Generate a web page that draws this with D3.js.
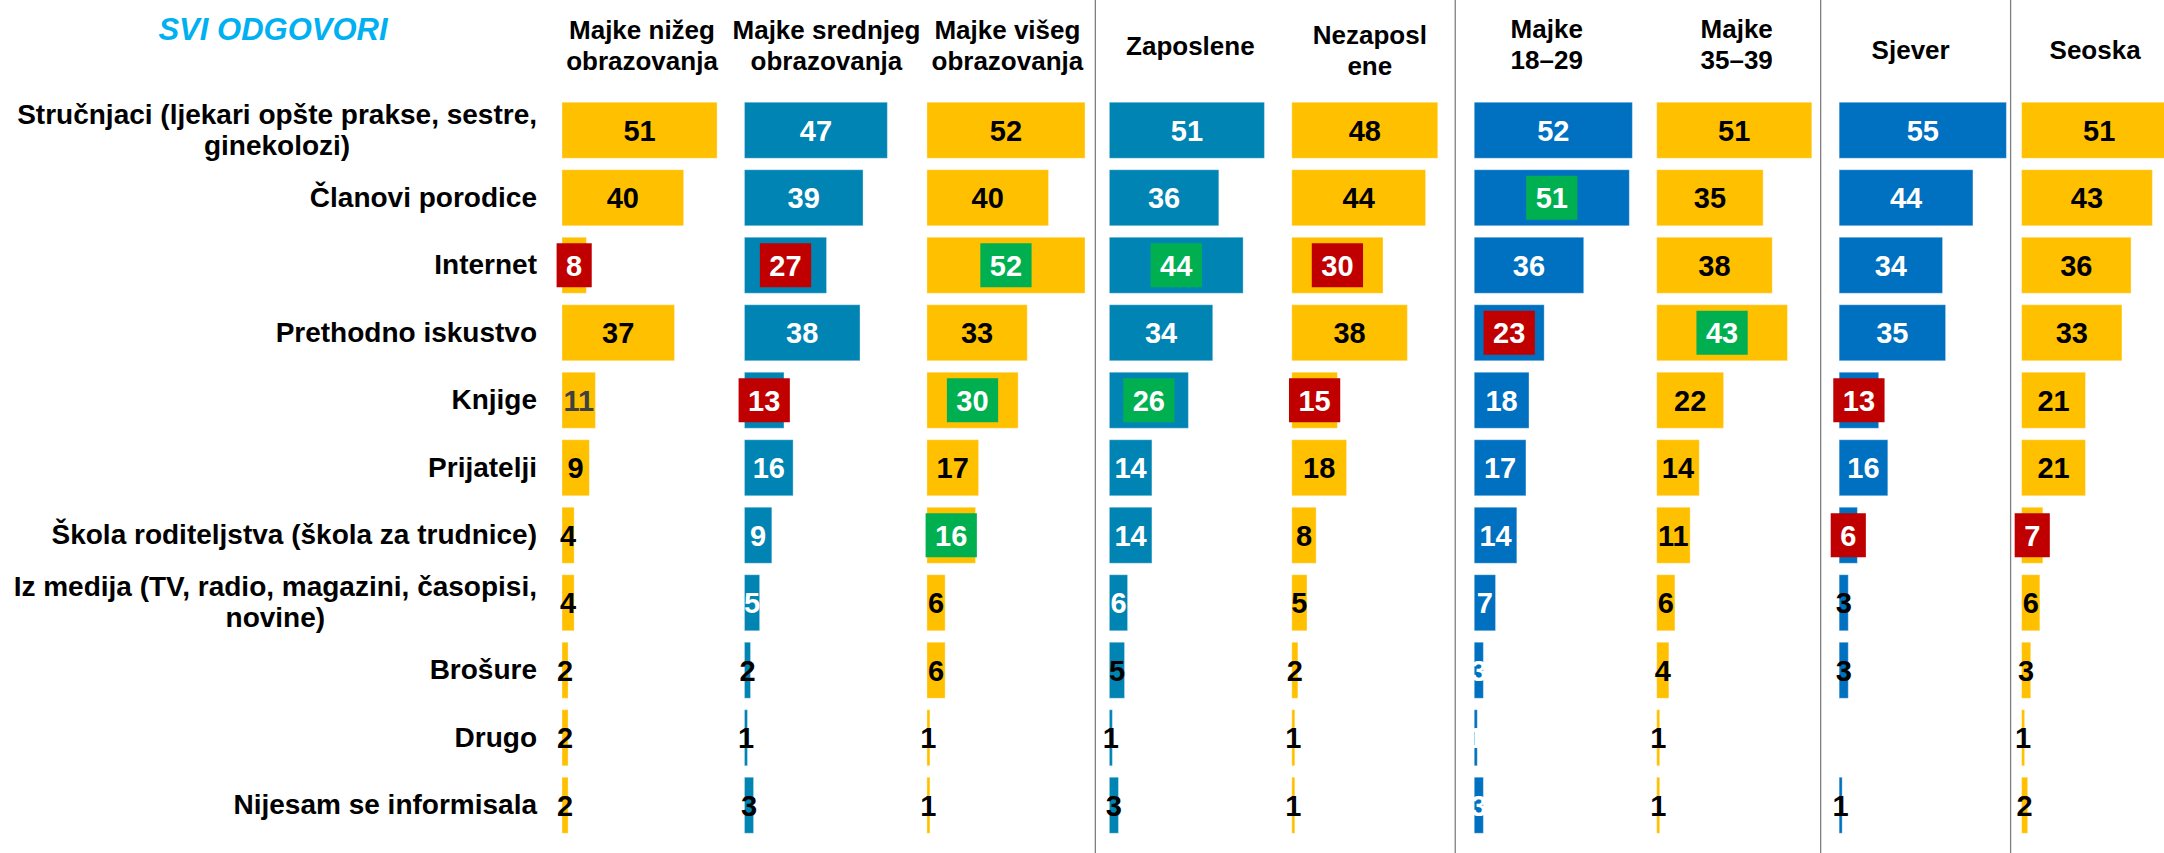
<!DOCTYPE html>
<html>
<head>
<meta charset="utf-8">
<script src="https://cdn.jsdelivr.net/npm/d3@7"></script>
<style>
  body { margin: 0; background: #fff; overflow: hidden; }
  text { font-family: "Liberation Sans", Arial, sans-serif; font-weight: bold; }
</style>
</head>
<body>
<div id="chart"></div>
<script>
// categories (rows)
var categories = [
  "Stručnjaci (ljekari opšte prakse, sestre, ginekolozi)",
  "Članovi porodice",
  "Internet",
  "Prethodno iskustvo",
  "Knjige",
  "Prijatelji",
  "Škola roditeljstva (škola za trudnice)",
  "Iz medija (TV, radio, magazini, časopisi, novine)",
  "Brošure",
  "Drugo",
  "Nijesam se informisala"
];

// column groups and their header lines
var groups = ["nizeg", "srednjeg", "viseg", "zaposlene", "nezaposlene", "m1829", "m3539", "sjever", "seoska"];
var headers = [
  ["Majke nižeg", "obrazovanja"],
  ["Majke srednjeg", "obrazovanja"],
  ["Majke višeg", "obrazovanja"],
  ["Zaposlene"],
  ["Nezaposl", "ene"],
  ["Majke", "18–29"],
  ["Majke", "35–39"],
  ["Sjever"],
  ["Seoska"]
];

// values per group, same order as categories
var nizeg       = [51, 40, 8, 37, 11, 9, 4, 4, 2, 2, 2];
var srednjeg    = [47, 39, 27, 38, 13, 16, 9, 5, 2, 1, 3];
var viseg       = [52, 40, 52, 33, 30, 17, 16, 6, 6, 1, 1];
var zaposlene   = [51, 36, 44, 34, 26, 14, 14, 6, 5, 1, 3];
var nezaposlene = [48, 44, 30, 38, 15, 18, 8, 5, 2, 1, 1];
var m1829       = [52, 51, 36, 23, 18, 17, 14, 7, 3, 1, 3];
var m3539       = [51, 35, 38, 43, 22, 14, 11, 6, 4, 1, 1];
var sjever      = [55, 44, 34, 35, 13, 16, 6, 3, 3, null, 1];
var seoska      = [51, 43, 36, 33, 21, 21, 7, 6, 3, 1, 2];
var series = [nizeg, srednjeg, viseg, zaposlene, nezaposlene, m1829, m3539, sjever, seoska];

// significantly lower / higher cells [row, column]
var lowerCells  = [[2,0],[2,1],[2,4],[4,1],[4,4],[3,5],[4,7],[6,7],[6,8]];
var higherCells = [[2,2],[2,3],[1,5],[3,6],[4,2],[4,3],[6,2]];

// ---- layout / style ----
var W = 2164, H = 853;
var YELLOW = "#FFC000", TEAL = "#0084B4", BLUE = "#0070C0", RED = "#C00000", GREEN = "#00B050";
var panelColors = [YELLOW, TEAL, YELLOW, TEAL, YELLOW, BLUE, YELLOW, BLUE, YELLOW];
var headerDx = [80, 82, 80.5, 81, 78, 72.5, 80, 71.5, 73.5];
var headerMid = [54, 54, 54, 54.5, 59.5, 53, 53, 59, 59];
var separators = [[3, -14], [5, -19], [7, -18.5], [8, -11]];
var darkLabels = [[8,1],[9,1],[10,1],[8,3],[9,3],[10,3],[7,7],[8,7],[10,7]];

var svg = d3.select("#chart").append("svg")
  .attr("width", W)
  .attr("height", H);

var y = d3.scaleBand()
  .domain(d3.range(categories.length))
  .range([96.5, 96.5 + 67.5 * categories.length])
  .paddingInner(0.17)
  .paddingOuter(0.085);

var panel = d3.scaleBand()
  .domain(groups)
  .range([562, 562 + 182.45 * groups.length]);

var x = d3.scaleLinear().domain([0, 60]).range([0, panel.bandwidth()]);

// title
svg.append("text")
  .attr("x", 273).attr("y", 40)
  .attr("text-anchor", "middle")
  .style("font-size", "31px")
  .style("font-style", "italic")
  .style("fill", "#00B0F0")
  .text("SVI ODGOVORI");

// separators
separators.forEach(function(s) {
  var sx = panel(groups[s[0]]) + s[1];
  svg.append("line")
    .attr("x1", sx).attr("x2", sx)
    .attr("y1", 0).attr("y2", H)
    .style("stroke", "#7f7f7f")
    .style("stroke-width", 1.3);
});

// column headers
groups.forEach(function(g, i) {
  var lines = headers[i];
  var t = svg.append("text")
    .attr("text-anchor", "middle")
    .style("font-size", "26px")
    .style("fill", "#000");
  lines.forEach(function(l, k) {
    t.append("tspan")
      .attr("x", panel(g) + headerDx[i])
      .attr("y", headerMid[i] + (k - (lines.length - 1) / 2) * 31)
      .text(l);
  });
});

// category labels (wrapped, block right-aligned, lines centred)
var labelRight = 537;
categories.forEach(function(c, r) {
  var cy = y(r) + y.bandwidth() / 2;
  var t = svg.append("text")
    .style("font-size", "28px")
    .style("fill", "#000");
  var words = c.split(" ");
  var lines = [];
  var cur = "";
  var probe = t.append("tspan");
  words.forEach(function(w) {
    var test = cur ? cur + " " + w : w;
    probe.text(test);
    if (probe.node().getComputedTextLength() > 530 && cur) {
      lines.push(cur);
      cur = w;
    } else {
      cur = test;
    }
  });
  lines.push(cur);
  probe.remove();
  var widths = lines.map(function(l) {
    var p = t.append("tspan").text(l);
    var w = p.node().getComputedTextLength();
    p.remove();
    return w;
  });
  var blockW = d3.max(widths);
  var centerX = labelRight - blockW / 2;
  t.attr("text-anchor", "middle");
  lines.forEach(function(l, k) {
    t.append("tspan")
      .attr("x", centerX)
      .attr("y", cy + 9 + (k - (lines.length - 1) / 2) * 31)
      .text(l);
  });
});

function inList(list, r, c) {
  return list.some(function(p) { return p[0] === r && p[1] === c; });
}

// bars
groups.forEach(function(g, gi) {
  var cells = series[gi].map(function(v, r) { return { r: r, v: v }; })
    .filter(function(d) { return d.v !== null; });
  var gEl = svg.append("g").attr("transform", "translate(" + panel(g) + ",0)");

  gEl.selectAll("rect.bar")
    .data(cells)
    .enter().append("rect")
    .attr("class", "bar")
    .attr("x", x(0))
    .attr("y", function(d) { return y(d.r); })
    .attr("width", function(d) { return x(d.v) - x(0); })
    .attr("height", y.bandwidth())
    .style("fill", panelColors[gi])
    .style("stroke", "#ffffff")
    .style("stroke-opacity", 0.35)
    .style("stroke-width", 1);

  cells.forEach(function(d) {
    var cx = x(d.v / 2);
    var cy = y(d.r) + y.bandwidth() / 2;
    var low = inList(lowerCells, d.r, gi);
    var high = inList(higherCells, d.r, gi);
    var txt = gEl.append("text")
      .attr("x", cx)
      .attr("y", cy)
      .attr("dy", "0.355em")
      .attr("text-anchor", "middle")
      .style("font-size", "29px")
      .text(d.v);
    var fill = "#000";
    if (low || high) {
      fill = "#fff";
      var tw = txt.node().getComputedTextLength();
      gEl.insert("rect", function() { return txt.node(); })
        .attr("x", cx - (tw + 19) / 2)
        .attr("y", cy - 22)
        .attr("width", tw + 19)
        .attr("height", 44)
        .style("fill", low ? RED : GREEN);
    } else if (panelColors[gi] !== YELLOW) {
      fill = inList(darkLabels, d.r, gi) ? "#000" : "#fff";
    } else if (d.r === 4 && gi === 0) {
      fill = "#404040";
    }
    txt.style("fill", fill);
  });
});
</script>
</body>
</html>
